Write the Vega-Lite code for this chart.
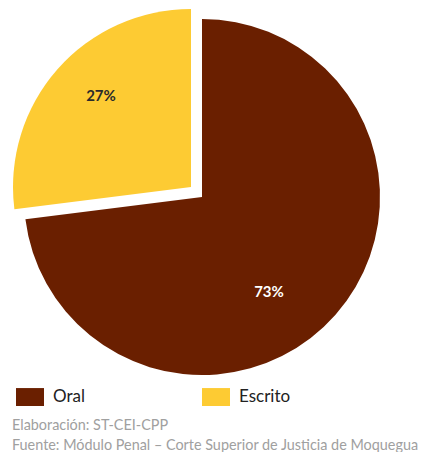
{
  "$schema": "https://vega.github.io/schema/vega-lite/v6.json",
  "width": 404,
  "height": 394,
  "padding": 0,
  "background": "white",
  "config": {"view": {"stroke": null}, "font": "Lato"},
  "title": {
    "text": ["Elaboración: ST-CEI-CPP", "Fuente: Módulo Penal – Corte Superior de Justicia de Moquegua"],
    "orient": "bottom",
    "anchor": "start",
    "frame": "group",
    "dx": 12,
    "offset": 13,
    "fontSize": 14.4,
    "fontWeight": "normal",
    "color": "#a0a0a0",
    "lineHeight": 19.5
  },
  "data": {"values": [
    {"tipo": "Oral", "pct": 73, "etiqueta": "73%"},
    {"tipo": "Escrito", "pct": 27, "etiqueta": "27%"}
  ]},
  "layer": [
    {
      "transform": [
        {"stack": "pct", "groupby": [], "as": ["inicio", "fin"], "sort": [{"field": "tipo", "order": "descending"}]},
        {"filter": "datum.tipo === 'Oral'"}
      ],
      "mark": {"type": "arc", "outerRadius": 178},
      "encoding": {
        "theta": {"field": "inicio", "type": "quantitative", "scale": {"domain": [0, 100]}, "stack": null},
        "theta2": {"field": "fin"},
        "color": {
          "field": "tipo", "type": "nominal",
          "scale": {"domain": ["Oral", "Escrito"], "range": ["#6a1f00", "#fdcb33"]},
          "legend": {
            "orient": "none", "legendX": 16, "legendY": 383, "direction": "horizontal", "title": null,
            "padding": 0, "symbolType": "M-1,-0.64H1V0.64H-1Z", "symbolSize": 784, "symbolStrokeWidth": 0,
            "labelFontSize": 17, "labelColor": "#222222", "labelOffset": 9, "columnPadding": 117
          }
        }
      }
    },
    {
      "transform": [
        {"stack": "pct", "groupby": [], "as": ["inicio", "fin"], "sort": [{"field": "tipo", "order": "descending"}]},
        {"filter": "datum.tipo === 'Escrito'"}
      ],
      "mark": {"type": "arc", "outerRadius": 178, "xOffset": -11, "yOffset": -10},
      "encoding": {
        "theta": {"field": "inicio", "type": "quantitative", "stack": null},
        "theta2": {"field": "fin"},
        "color": {"field": "tipo", "type": "nominal"}
      }
    },
    {
      "mark": {"type": "text", "radius": 116, "dx": -20, "dy": 18, "fontSize": 15, "fontWeight": "bold", "color": "white", "align": "center", "baseline": "middle"},
      "encoding": {
        "theta": {"field": "pct", "type": "quantitative", "stack": true},
        "order": {"field": "tipo", "sort": "descending"},
        "text": {"condition": {"test": "datum.tipo === 'Oral'", "field": "etiqueta"}, "value": ""}
      }
    },
    {
      "mark": {"type": "text", "radius": 128, "dx": -5, "dy": -16, "fontSize": 15, "fontWeight": "bold", "color": "#2b2b2b", "align": "center", "baseline": "middle"},
      "encoding": {
        "theta": {"field": "pct", "type": "quantitative", "stack": true},
        "order": {"field": "tipo", "sort": "descending"},
        "text": {"condition": {"test": "datum.tipo === 'Escrito'", "field": "etiqueta"}, "value": ""}
      }
    }
  ]
}
